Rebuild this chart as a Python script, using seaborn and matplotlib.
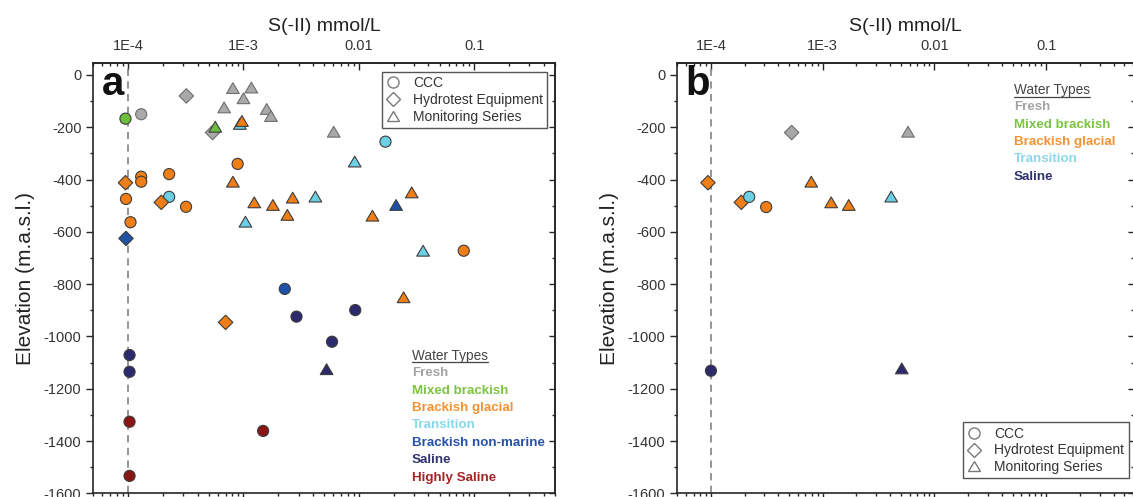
import numpy as np
import pandas as pd
import matplotlib
matplotlib.use("Agg")
import matplotlib.pyplot as plt
from matplotlib.lines import Line2D
from matplotlib.markers import MarkerStyle
from matplotlib.transforms import Affine2D
from matplotlib.ticker import LogLocator, MultipleLocator, FuncFormatter, NullFormatter
import seaborn as sns

# ---------------------------------------------------------------- data
# Panel a: all samples (S(-II) in mmol/L, elevation in m.a.s.l.)
a_sulfide = [1.3e-4, 3.2e-4, 5.4e-4, 8.1e-4, 1.17e-3, 1.0e-3, 6.8e-4, 1.59e-3, 1.73e-3, 6.05e-3,
             9.5e-5, 5.7e-4,
             9.3e-4, 2.27e-4, 1.7e-2, 9.2e-3, 4.2e-3, 1.04e-3, 3.6e-2,
             9.7e-4, 8.9e-4, 8.1e-4, 1.3e-4, 1.3e-4, 2.27e-4, 9.5e-5, 9.6e-5, 1.94e-4, 3.18e-4,
             1.05e-4, 1.24e-3, 1.8e-3, 2.67e-3, 2.4e-3, 1.31e-2, 2.87e-2, 0.081, 7.0e-4, 2.44e-2,
             9.6e-5, 2.1e-2, 2.28e-3,
             2.88e-3, 9.3e-3, 5.85e-3, 5.25e-3, 1.03e-4, 1.03e-4,
             1.03e-4, 1.03e-4, 1.48e-3]
a_elevation = [-150, -80, -220, -50, -48, -89, -124, -130, -157, -217,
               -167, -198,
               -187, -466, -255, -331, -465, -561, -672,
               -176, -340, -408, -389, -408, -379, -412, -474, -487, -504,
               -563, -487, -497, -469, -535, -538, -449, -672, -946, -850,
               -625, -497, -818,
               -924, -899, -1020, -1125, -1071, -1135,
               -1326, -1533, -1361]
a_water = (["Fresh"] * 10 + ["Mixed brackish"] * 2 + ["Transition"] * 7
           + ["Brackish glacial"] * 20 + ["Brackish non-marine"] * 3
           + ["Saline"] * 6 + ["Highly Saline"] * 3)
a_source = (["CCC", "Hydrotest Equipment", "Hydrotest Equipment"] + ["Monitoring Series"] * 7
            + ["CCC", "Monitoring Series"]
            + ["Monitoring Series", "CCC", "CCC", "Monitoring Series", "Monitoring Series",
               "Monitoring Series", "Monitoring Series"]
            + ["Monitoring Series", "CCC", "Monitoring Series", "CCC", "CCC", "CCC",
               "Hydrotest Equipment", "CCC", "Hydrotest Equipment", "CCC", "CCC",
               "Monitoring Series", "Monitoring Series", "Monitoring Series", "Monitoring Series",
               "Monitoring Series", "Monitoring Series", "CCC", "Hydrotest Equipment",
               "Monitoring Series"]
            + ["Hydrotest Equipment", "Monitoring Series", "CCC"]
            + ["CCC", "CCC", "CCC", "Monitoring Series", "CCC", "CCC"]
            + ["CCC", "CCC", "CCC"])

# Panel b: subset of samples
b_sulfide = [5.27e-4, 5.8e-3, 9.4e-5, 1.87e-4, 2.2e-4, 3.12e-4, 7.9e-4, 1.19e-3, 1.71e-3,
             4.1e-3, 1.0e-4, 5.1e-3]
b_elevation = [-220, -217, -412, -487, -466, -505, -408, -487, -497, -465, -1131, -1122]
b_water = ["Fresh", "Fresh", "Brackish glacial", "Brackish glacial", "Transition",
           "Brackish glacial", "Brackish glacial", "Brackish glacial", "Brackish glacial",
           "Transition", "Saline", "Saline"]
b_source = ["Hydrotest Equipment", "Monitoring Series", "Hydrotest Equipment",
            "Hydrotest Equipment", "CCC", "CCC", "Monitoring Series", "Monitoring Series",
            "Monitoring Series", "Monitoring Series", "CCC", "Monitoring Series"]

water_types = ["Fresh", "Mixed brackish", "Brackish glacial", "Transition",
               "Brackish non-marine", "Saline", "Highly Saline"]
sources = ["CCC", "Hydrotest Equipment", "Monitoring Series"]
x_tick_text = {1e-4: "1E-4", 1e-3: "1E-3", 1e-2: "0.01", 1e-1: "0.1"}

# ---------------------------------------------------------------- styling
fill_colors = {"Fresh": "#a9a9a9", "Mixed brackish": "#6cbf3c", "Brackish glacial": "#f07e16",
               "Transition": "#6ccfe3", "Brackish non-marine": "#1f52a6", "Saline": "#2c2a6c",
               "Highly Saline": "#8a1515"}
label_colors = {"Fresh": "#a3a3a3", "Mixed brackish": "#7cc444", "Brackish glacial": "#f29233",
                "Transition": "#8ad8ea", "Brackish non-marine": "#2552a8", "Saline": "#323272",
                "Highly Saline": "#a52424"}
# marker shapes, with the diamond trimmed and the triangle widened a little
diamond = MarkerStyle("D", transform=Affine2D().scale(0.92))
triangle = MarkerStyle("^", transform=Affine2D().scale(1.14, 0.97))
marker_shapes = {"CCC": "o", "Hydrotest Equipment": diamond, "Monitoring Series": triangle}

sns.set_style("ticks")
plt.rcParams["font.family"] = ["Liberation Sans", "DejaVu Sans"]
plt.rcParams["axes.unicode_minus"] = False
plt.rcParams["axes.linewidth"] = 1.2

W, H = 1133, 497
fig = plt.figure(figsize=(W / 100, H / 100), dpi=100)
fig.patch.set_facecolor("white")

TXT = "#333333"


def panel(rect, sulfide, elevation, water, source, xmax, letter, shown_types,
          types_pos, legend_kw):
    ax = fig.add_axes(rect)
    df = pd.DataFrame({"sulfide": sulfide, "elevation": elevation,
                       "water": water, "source": source})
    ax.axvline(1e-4, color="#8c8c8c", lw=1.3, ls=(0, (4, 3)), zorder=1)
    sns.scatterplot(data=df, x="sulfide", y="elevation", hue="water", style="source",
                    hue_order=water_types, style_order=sources, palette=fill_colors,
                    markers=marker_shapes, s=64, linewidth=0.8, edgecolor="#3c3c3c",
                    legend=False, ax=ax, zorder=3)
    coll = ax.collections[-1]
    coll.set_edgecolor(["#6e6e6e" if w == "Fresh" else "#3c3c3c" for w in df["water"]])

    ax.set_xscale("log")
    ax.set_xlim(5e-5, xmax)
    ax.set_ylim(-1600, 47)
    ax.set_xlabel("")
    ax.set_ylabel("Elevation (m.a.s.l.)", fontsize=15, color="#222222", labelpad=6)

    # bottom / left axes: outward ticks
    ax.xaxis.set_major_locator(LogLocator(base=10, numticks=12))
    ax.xaxis.set_minor_locator(LogLocator(base=10, subs=np.arange(2, 10), numticks=12))
    ax.xaxis.set_major_formatter(NullFormatter())
    ax.xaxis.set_minor_formatter(NullFormatter())
    ax.tick_params(axis="x", which="both", direction="out", bottom=True, top=False,
                   labelbottom=False)
    ax.yaxis.set_major_locator(MultipleLocator(200))
    ax.yaxis.set_minor_locator(MultipleLocator(100))
    ax.yaxis.set_major_formatter(FuncFormatter(lambda v, p: f"{int(round(v))}"))
    ax.tick_params(axis="y", which="both", direction="out", left=True, right=False,
                   labelsize=10.5, labelcolor=TXT)
    ax.tick_params(which="major", length=5, width=1.0)
    ax.tick_params(which="minor", length=2.5, width=1.0)

    # top axis with labels, inward ticks
    top = ax.secondary_xaxis("top")
    top.xaxis.set_major_locator(LogLocator(base=10, numticks=12))
    top.xaxis.set_minor_locator(LogLocator(base=10, subs=np.arange(2, 10), numticks=12))
    top.xaxis.set_major_formatter(FuncFormatter(
        lambda v, p: x_tick_text.get(float(f"{v:.0e}"), "")))
    top.xaxis.set_minor_formatter(NullFormatter())
    top.tick_params(which="both", direction="in", labelsize=10.5, labelcolor=TXT, pad=7)
    top.tick_params(which="major", length=5, width=1.0)
    top.tick_params(which="minor", length=2.5, width=1.0)
    top.set_xlabel("S(-II) mmol/L", fontsize=14, color="#222222", labelpad=6)

    # right axis: inward ticks, no labels
    right = ax.secondary_yaxis("right")
    right.yaxis.set_major_locator(MultipleLocator(200))
    right.yaxis.set_minor_locator(MultipleLocator(100))
    right.tick_params(which="both", direction="in", labelright=False, width=1.0)
    right.tick_params(which="major", length=4.5)
    right.tick_params(which="minor", length=2.5)

    ax.text(0.018, 0.926, letter, transform=ax.transAxes, fontsize=29,
            fontweight="bold", ha="left", va="baseline", color="#111111")

    # water type key
    tx, ty, step = types_pos
    head = ax.text(tx, ty, "Water Types", transform=ax.transAxes, fontsize=9.8,
                   color="#444444", ha="left", va="center")
    for i, wt in enumerate(shown_types, start=1):
        ax.text(tx, ty - i * step, wt, transform=ax.transAxes, fontsize=9.6,
                fontweight="bold", color=label_colors[wt], ha="left", va="center")

    # sampling source key
    handles = [Line2D([], [], marker=marker_shapes[s], ls="none", mfc="white",
                      mec="#7a7a7a", mew=1.0, ms=8)
               for s in sources]
    leg = ax.legend(handles, sources, fontsize=10, frameon=True, fancybox=False,
                    edgecolor="#555555", framealpha=1, borderpad=0.3, labelspacing=0.2,
                    handlelength=1.0, handletextpad=0.95, borderaxespad=0, **legend_kw)
    leg.get_frame().set_linewidth(1.0)
    for t in leg.get_texts():
        t.set_color(TXT)
    return ax, head


bottom = (H - 493.4) / H
height = (493.4 - 62.7) / H

ax_a, head_a = panel([93.3 / W, bottom, (555 - 93.3) / W, height],
                     a_sulfide, a_elevation, a_water, a_source, 0.5, "a", water_types,
                     (0.690, 0.3197, 0.0404),
                     dict(loc="upper right", bbox_to_anchor=(0.983, 0.978)))
ax_b, head_b = panel([677.3 / W, bottom, (1134 - 677.3) / W, height],
                     b_sulfide, b_elevation, b_water, b_source, 0.61, "b",
                     ["Fresh", "Mixed brackish", "Brackish glacial", "Transition", "Saline"],
                     (0.737, 0.9366, 0.0402),
                     dict(loc="lower right", bbox_to_anchor=(0.988, 0.035)))

# underline the key headings
fig.canvas.draw()
renderer = fig.canvas.get_renderer()
for head in (head_a, head_b):
    bb = head.get_window_extent(renderer)
    y = bb.y0 + 0.5
    fig.add_artist(Line2D([bb.x0 / W, bb.x1 / W], [y / H, y / H], color="#444444",
                          lw=0.9, transform=fig.transFigure))

fig.savefig("out.png", dpi=100, facecolor="white")
